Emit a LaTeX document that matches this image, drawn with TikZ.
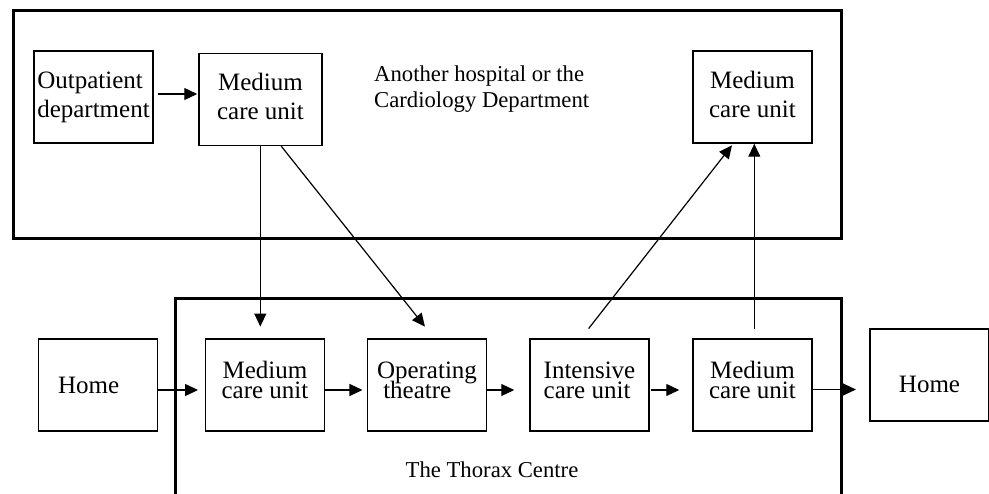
\documentclass[tikz,border=0pt]{standalone}
\usepackage{fontspec}
\setmainfont{Liberation Serif}
\usetikzlibrary{arrows.meta,calc}
\lineskiplimit=-30pt

\begin{document}
\begin{tikzpicture}[x=1pt, y=-1pt,
  wardframe/.style={line width=3pt},
  unitbox/.style={draw, line width=1.5pt, minimum width=119pt, minimum height=92pt, inner sep=0pt},
  topunit/.style={unitbox, align=center, text depth=5.5pt, font=\fontsize{25}{29}\selectfont},
  lowunit/.style={unitbox, align=center, text depth=10pt, font=\fontsize{25}{20.5}\selectfont},
  sitetext/.style={inner sep=0pt, align=left, font=\fontsize{22.7}{26}\selectfont},
  arr/.style={-{Triangle[length=13pt,width=12pt]}, line width=1.2pt}]
\useasboundingbox (0,0) rectangle (989,494);

% Other hospital
\draw[wardframe] (13.3,11) rectangle (841.7,239);
\node[topunit, align=left] (outpat) at (93.5,97) {Outpatient\\department};
\node[topunit, minimum width=123pt] (mcuA) at (260.5,99.5) {Medium\\care unit};
\node[topunit] (mcuC) at (752.5,97) {Medium\\care unit};
\node[sitetext, anchor=north west] (other) at (374,66) {Another hospital or the\\Cardiology Department};

% Thorax Centre
\draw[wardframe] (175.7,500) |- (841.7,299) -- (841.7,500);
\node[sitetext, anchor=base] (thorax) at (492,478) {The Thorax Centre};
\node[lowunit] (mcuB) at (265,385) {Medium\\care unit};
\node[lowunit, align=left] (opt) at (427,385) {Operating\\\ theatre};
\node[lowunit, align=left] (icu) at (589.5,385) {Intensive\\care unit};
\node[lowunit] (mcuD) at (752.5,385) {Medium\\care unit};

% Home
\node[unitbox, text width=80pt, align=left, font=\fontsize{25}{29}\selectfont] (homeL) at (98,385) {Home};
\node[unitbox, text height=35pt, font=\fontsize{25}{29}\selectfont] (homeR) at (929.5,375) {Home};

% Patient flow
\draw[arr, shorten <=4pt, shorten >=1pt] ([yshift=3pt]outpat.east) -- ([yshift=3pt]outpat.east -| mcuA.west);
\draw[arr, shorten >=11.7pt] ([xshift=-0.2pt]mcuA.south) -- ([xshift=-0.2pt]mcuA.south |- mcuB.north);
\draw[arr, shorten >=14.9pt] ($(mcuA.south west)!0.667!(mcuA.south east)$) -- ($(opt.north west)!0.56!(opt.north east)$);
\draw[arr, shorten >=6.7pt] ([yshift=-5pt]homeL.east) -- ([yshift=-5pt]homeL.east -| mcuB.west);
\draw[arr, shorten >=4.3pt] ([yshift=-5pt]mcuB.east) -- ([yshift=-5pt]mcuB.east -| opt.west);
\draw[arr, shorten >=15pt] ([yshift=-5pt]opt.east) -- ([yshift=-5pt]opt.east -| icu.west);
\draw[arr, shorten <=1.7pt, shorten >=13pt] ([yshift=-5pt]icu.east) -- ([yshift=-5pt]icu.east -| mcuD.west);
\draw[arr, shorten >=13.3pt] ([yshift=-4.5pt]mcuD.east) -- ([yshift=-4.5pt]mcuD.east -| homeR.west);
\draw[arr, shorten <=12.3pt, shorten >=2pt] ($(icu.north west)!0.43!(icu.north east)$) -- ($(mcuC.south west)!0.34!(mcuC.south east)$);
\draw[arr, shorten <=9.7pt] ([xshift=1.8pt]mcuD.north) -- ([xshift=1.8pt]mcuD.north |- mcuC.south);
\end{tikzpicture}
\end{document}
